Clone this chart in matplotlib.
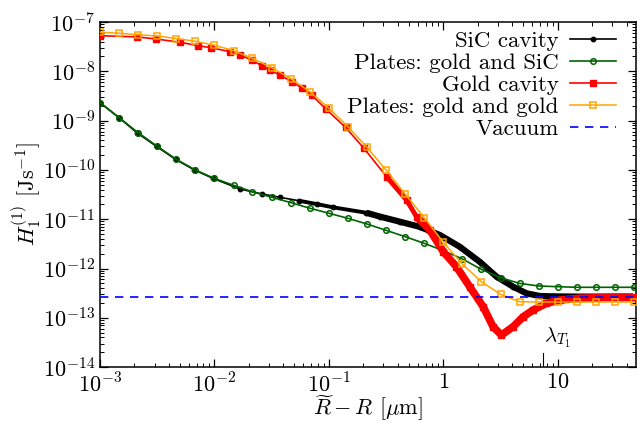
import matplotlib
matplotlib.use("Agg")
import matplotlib.pyplot as plt
from matplotlib.ticker import FixedLocator, FixedFormatter, LogLocator, NullFormatter

plt.rcParams["font.family"] = "serif"
plt.rcParams["font.serif"] = ["cmr10"]
plt.rcParams["mathtext.fontset"] = "cm"
plt.rcParams["axes.unicode_minus"] = False
plt.rcParams["axes.formatter.use_mathtext"] = True

# grid of the marked curves (1/6 decade)
x_plates = [0.001, 0.00147, 0.00215, 0.00316, 0.00464, 0.00681, 0.01, 0.0147, 0.0215,
            0.0316, 0.0464, 0.0681, 0.1, 0.147, 0.215, 0.316, 0.464, 0.681, 1.0,
            1.47, 2.15, 3.16, 4.64, 6.81, 10.0, 14.7, 21.5, 31.6, 46.4]

y_gold_sic = [2.31e-9, 1.14e-9, 5.69e-10, 3.01e-10, 1.64e-10, 9.95e-11, 6.70e-11, 4.87e-11,
              3.60e-11, 2.79e-11, 2.17e-11, 1.67e-11, 1.32e-11, 1.04e-11, 8.0e-12, 5.96e-12,
              4.42e-12, 3.24e-12, 2.30e-12, 1.56e-12, 9.6e-13, 6.5e-13, 5.0e-13, 4.42e-13,
              4.28e-13, 4.16e-13, 4.16e-13, 4.16e-13, 4.16e-13]

y_gold_gold = [6.2e-8, 5.9e-8, 5.5e-8, 5.2e-8, 4.6e-8, 4.06e-8, 3.37e-8, 2.62e-8, 1.82e-8,
               1.19e-8, 7.1e-9, 3.86e-9, 1.78e-9, 7.5e-10, 2.87e-10, 9.95e-11, 3.24e-11,
               1.08e-11, 3.4e-12, 1.22e-12, 5.4e-13, 3.0e-13, 2.12e-13, 2.09e-13, 2.09e-13,
               2.1e-13, 2.1e-13, 2.1e-13, 2.1e-13]

x_sic = [0.001, 0.00147, 0.0021, 0.00312, 0.00458, 0.00667, 0.00976, 0.0167, 0.0261, 0.0373,
         0.0547, 0.0781, 0.109, 0.213, 0.279, 0.417, 0.623, 0.932, 1.39, 2.08, 2.92, 4.07,
         5.33, 6.97, 9.1, 15.5, 45.4]
y_sic = [2.31e-9, 1.14e-9, 5.69e-10, 2.99e-10, 1.63e-10, 1.0e-10, 6.70e-11, 4.10e-11,
         3.24e-11, 2.78e-11, 2.37e-11, 2.03e-11, 1.74e-11, 1.35e-11, 1.13e-11, 8.9e-12,
         7.0e-12, 4.78e-12, 2.77e-12, 1.37e-12, 6.82e-13, 4.28e-13, 3.14e-13, 2.77e-13,
         2.72e-13, 2.69e-13, 2.69e-13]

x_gold = [0.001, 0.0021, 0.00308, 0.0050, 0.00722, 0.00927, 0.01366, 0.0167, 0.0211, 0.0258,
          0.0305, 0.0373, 0.0472, 0.0577, 0.0706, 0.0942, 0.140, 0.203, 0.319, 0.477, 0.583,
          0.762, 1.0, 1.30, 1.70, 2.23, 2.72, 3.22, 4.07, 4.98, 6.09, 7.96, 10.4, 15.5,
          30.4, 45.5]
y_gold = [5.27e-8, 4.97e-8, 4.52e-8, 3.87e-8, 3.30e-8, 3.01e-8, 2.50e-8, 2.14e-8, 1.69e-8,
          1.30e-8, 1.06e-8, 8.4e-9, 6.15e-9, 4.65e-9, 3.30e-9, 1.72e-9, 7.24e-10, 2.72e-10,
          7.28e-11, 2.45e-11, 1.12e-11, 6.04e-12, 2.19e-12, 1.09e-12, 4.28e-13, 1.68e-13,
          6.59e-14, 4.48e-14, 6.59e-14, 1.05e-13, 1.44e-13, 1.97e-13, 2.30e-13, 2.49e-13,
          2.61e-13, 2.61e-13]

vacuum = 2.64e-13
lambda_T1 = 7.4

x_ticks = [1e-3, 1e-2, 1e-1, 1, 10]
x_ticklabels = [r"$10^{-3}$", r"$10^{-2}$", r"$10^{-1}$", r"$1$", r"$10$"]


def subset(xs, ys, xmin):
    keep = [i for i, v in enumerate(xs) if v >= xmin]
    return [xs[i] for i in keep], [ys[i] for i in keep]


fig = plt.figure(figsize=(6.37, 4.22), dpi=100)
ax = fig.add_axes([0.157, 0.130, 0.841, 0.818])

# dense curves: markers plus a thicker band where the points overlap
ax.plot(*subset(x_sic, y_sic, 0.05), color="black", lw=2.8, solid_capstyle="butt", zorder=2)
ax.plot(*subset(x_sic, y_sic, 0.2), color="black", lw=4.5, solid_capstyle="butt", zorder=2)
ax.plot(x_sic, y_sic, color="black", lw=1.2, marker="o", ms=3.2, zorder=2,
        label="SiC cavity")
ax.plot(x_plates, y_gold_sic, color="#006400", lw=1.2, marker="o", ms=4, mfc="none",
        mew=1.1, zorder=3, label="Plates: gold and SiC")
ax.plot(*subset(x_gold, y_gold, 0.3), color="#ff0000", lw=3.5, solid_capstyle="butt", zorder=4)
ax.plot(*subset(x_gold, y_gold, 0.55), color="#ff0000", lw=5.5, solid_capstyle="butt", zorder=4)
ax.plot(x_gold, y_gold, color="#ff0000", lw=1.2, marker="s", ms=4.5, zorder=4,
        label="Gold cavity")
ax.plot(x_plates, y_gold_gold, color="#ffa500", lw=1.1, marker="s", ms=4.3, mfc="none",
        mew=1.1, zorder=5, label="Plates: gold and gold")
ax.axhline(vacuum, color="#0000ff", lw=1.2, ls=(0, (5, 4)), zorder=6, label="Vacuum")

ax.axvline(lambda_T1, ymin=0, ymax=0.04, color="black", lw=0.8)
ax.text(lambda_T1 * 1.02, 2.2e-14, r"$\lambda_{T_1}$", fontsize=15, ha="left", va="bottom")

ax.set_xscale("log")
ax.set_yscale("log")
ax.set_xlim(1e-3, 48)
ax.set_ylim(1e-14, 1e-7)

ax.xaxis.set_major_locator(FixedLocator(x_ticks))
ax.xaxis.set_major_formatter(FixedFormatter(x_ticklabels))
ax.xaxis.set_minor_locator(LogLocator(base=10, subs=range(2, 10), numticks=20))
ax.xaxis.set_minor_formatter(NullFormatter())
ax.yaxis.set_major_locator(LogLocator(base=10, numticks=20))
ax.yaxis.set_minor_locator(LogLocator(base=10, subs=range(2, 10), numticks=20))
ax.yaxis.set_minor_formatter(NullFormatter())

ax.tick_params(which="both", direction="in", top=True, right=True, labelsize=16)
ax.tick_params(which="major", length=6, width=0.9)
ax.tick_params(which="minor", length=3, width=0.7)
for s in ax.spines.values():
    s.set_linewidth(1.1)

ax.set_xlabel(r"$\widetilde{R}-R$ [$\mu$m]", fontsize=16, labelpad=-2)
ax.set_ylabel(r"$H_1^{(1)}$ [Js$^{-1}$]", fontsize=16, labelpad=0)

ax.legend(loc="upper right", frameon=False, markerfirst=False, fontsize=16.5,
          handlelength=2.0, handletextpad=0.5, labelspacing=0.08, borderaxespad=0.0,
          bbox_to_anchor=(0.98, 1.0))

fig.savefig("out.png", dpi=100)
